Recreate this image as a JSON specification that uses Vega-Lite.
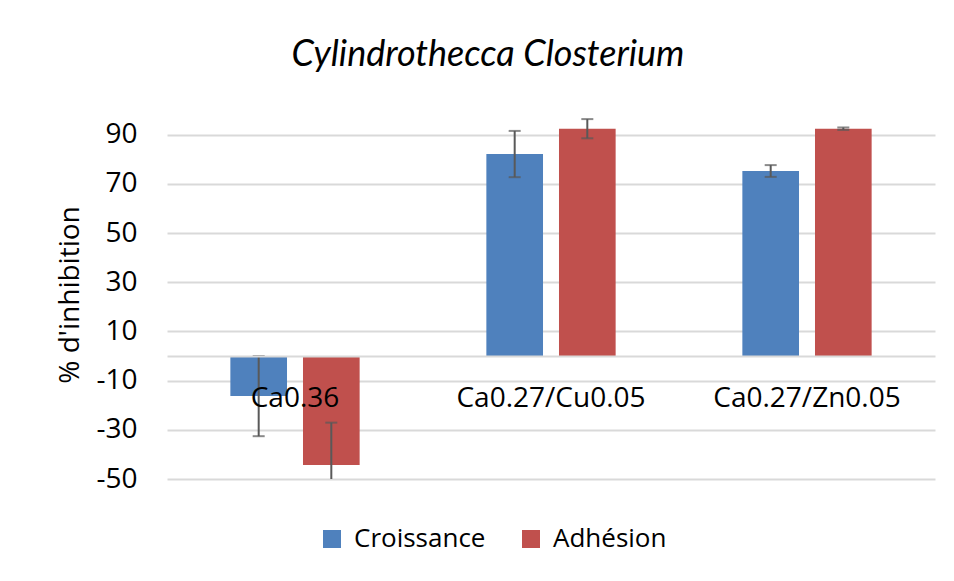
{
  "$schema": "https://vega.github.io/schema/vega-lite/v6.json",
  "width": 768,
  "height": 369,
  "autosize": {"type": "none"},
  "padding": {"left": 167, "top": 110, "right": 19, "bottom": 102},
  "background": "white",
  "title": {
    "text": "Cylindrothecca Closterium",
    "font": "Lato",
    "fontStyle": "italic",
    "fontWeight": "normal",
    "fontSize": 36,
    "color": "#000000",
    "anchor": "middle",
    "frame": "bounds",
    "dx": -8,
    "offset": 36
  },
  "data": {
    "values": [
      {"materiau": "Ca0.36", "mesure": "Croissance", "valeur": -16.3, "bas": -32.6, "haut": 0.0},
      {"materiau": "Ca0.36", "mesure": "Adhésion", "valeur": -44.3, "bas": -61.5, "haut": -27.1},
      {"materiau": "Ca0.27/Cu0.05", "mesure": "Croissance", "valeur": 82.1, "bas": 72.7, "haut": 91.5},
      {"materiau": "Ca0.27/Cu0.05", "mesure": "Adhésion", "valeur": 92.4, "bas": 88.5, "haut": 96.3},
      {"materiau": "Ca0.27/Zn0.05", "mesure": "Croissance", "valeur": 75.2, "bas": 72.8, "haut": 77.6},
      {"materiau": "Ca0.27/Zn0.05", "mesure": "Adhésion", "valeur": 92.4, "bas": 91.9, "haut": 92.9}
    ]
  },
  "encoding": {
    "x": {
      "field": "materiau",
      "type": "nominal",
      "sort": ["Ca0.36", "Ca0.27/Cu0.05", "Ca0.27/Zn0.05"],
      "scale": {"paddingInner": 0.495, "paddingOuter": 0.2475},
      "axis": {
        "title": null,
        "labelAngle": 0,
        "labelLimit": 0,
        "labelOverlap": false,
        "offset": -123,
        "ticks": false,
        "domainColor": "#d9d9d9",
        "domainWidth": 2,
        "labelPadding": 28,
        "labelFont": "Open Sans",
        "labelFontSize": 28,
        "labelColor": "#000000",
        "labelBaseline": "top",
        "zindex": 1
      }
    },
    "xOffset": {
      "field": "mesure",
      "type": "nominal",
      "sort": ["Croissance", "Adhésion"],
      "scale": {"paddingInner": 0.22}
    }
  },
  "layer": [
    {
      "mark": {"type": "bar", "clip": true},
      "encoding": {
        "y": {
          "field": "valeur",
          "type": "quantitative",
          "scale": {"domain": [-50, 100], "nice": false, "zero": false},
          "axis": {
            "values": [-50, -30, -10, 10, 30, 50, 70, 90],
            "labelExpr": "toString(datum.value)",
            "title": "% d'inhibition",
            "titleFont": "Open Sans",
            "titleFontSize": 28,
            "titleFontWeight": "normal",
            "titleColor": "#000000",
            "titlePadding": 11,
            "labelFont": "Open Sans",
            "labelFontSize": 28,
            "labelColor": "#000000",
            "labelPadding": 30,
            "ticks": false,
            "domain": false,
            "grid": true,
            "gridColor": "#d9d9d9",
            "gridWidth": 2
          }
        },
        "color": {
          "field": "mesure",
          "type": "nominal",
          "sort": ["Croissance", "Adhésion"],
          "scale": {"domain": ["Croissance", "Adhésion"], "range": ["#4f81bd", "#c0504d"]},
          "legend": {
            "title": null,
            "orient": "none",
            "legendX": 152,
            "legendY": 416,
            "direction": "horizontal",
            "symbolType": "square",
            "symbolSize": 324,
            "symbolStrokeWidth": 0,
            "labelFont": "Open Sans",
            "labelFontSize": 26,
            "labelColor": "#000000",
            "columnPadding": 32,
            "labelOffset": 9
          }
        }
      }
    },
    {
      "mark": {"type": "rule", "clip": true, "color": "#595959", "strokeWidth": 2},
      "encoding": {
        "y": {"field": "bas", "type": "quantitative"},
        "y2": {"field": "haut"}
      }
    },
    {
      "mark": {"type": "tick", "clip": true, "color": "#595959", "thickness": 2, "size": 12},
      "encoding": {
        "y": {"field": "bas", "type": "quantitative"}
      }
    },
    {
      "mark": {"type": "tick", "clip": true, "color": "#595959", "thickness": 2, "size": 12},
      "encoding": {
        "y": {"field": "haut", "type": "quantitative"}
      }
    }
  ],
  "config": {
    "view": {"stroke": null}
  }
}
